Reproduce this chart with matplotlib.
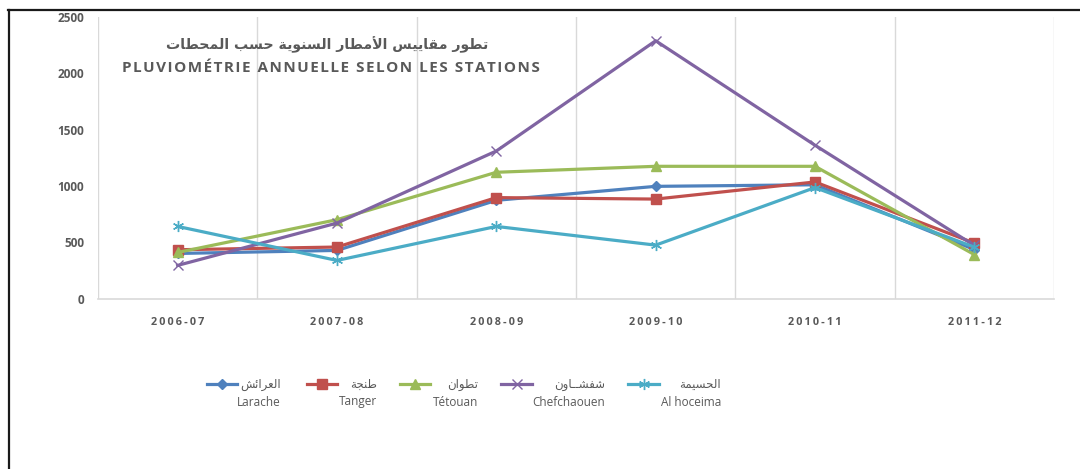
import matplotlib
matplotlib.use("Agg")
import matplotlib.pyplot as plt
from matplotlib.lines import Line2D

# ---- data (mm) ----
seasons = ["2006-07", "2007-08", "2008-09", "2009-10", "2010-11", "2011-12"]
larache = [400, 427, 872, 996, 1010, 435]
tanger = [433, 457, 896, 883, 1035, 492]
tetouan = [409, 700, 1121, 1174, 1174, 390]
chefchaouen = [294, 670, 1310, 2289, 1361, 471]
alhoceima = [640, 338, 640, 474, 985, 456]

names_ar = ["العرائش", "طنجة", "تطوان", "شفشــاون", "الحسيمة"]
names_fr = ["Larache", "Tanger", "Tétouan", "Chefchaouen", "Al hoceima"]
title_ar = "تطور مقاييس الأمطار السنوية حسب المحطات"
title_fr = "PLUVIOMÉTRIE ANNUELLE SELON LES STATIONS"

SERIES = [
    (larache, "#4F81BD", "D", 5.0),
    (tanger, "#C0504D", "s", 7.0),
    (tetouan, "#9BBB59", "^", 7.5),
    (chefchaouen, "#8064A2", "x", 6.5),
    (alhoceima, "#4BACC6", (6, 2, 0), 8.0),
]
TXT = "#595959"
GRID = "#D9D9D9"
W, H = 1080, 469

# presentation forms: isolated, final, initial, medial
FORMS = {
    "ا": (0xFE8D, 0xFE8E, None, None),
    "أ": (0xFE83, 0xFE84, None, None),
    "ب": (0xFE8F, 0xFE90, 0xFE91, 0xFE92),
    "ة": (0xFE93, 0xFE94, None, None),
    "ت": (0xFE95, 0xFE96, 0xFE97, 0xFE98),
    "ج": (0xFE9D, 0xFE9E, 0xFE9F, 0xFEA0),
    "ح": (0xFEA1, 0xFEA2, 0xFEA3, 0xFEA4),
    "ر": (0xFEAD, 0xFEAE, None, None),
    "س": (0xFEB1, 0xFEB2, 0xFEB3, 0xFEB4),
    "ش": (0xFEB5, 0xFEB6, 0xFEB7, 0xFEB8),
    "ط": (0xFEC1, 0xFEC2, 0xFEC3, 0xFEC4),
    "ع": (0xFEC9, 0xFECA, 0xFECB, 0xFECC),
    "ف": (0xFED1, 0xFED2, 0xFED3, 0xFED4),
    "ق": (0xFED5, 0xFED6, 0xFED7, 0xFED8),
    "ل": (0xFEDD, 0xFEDE, 0xFEDF, 0xFEE0),
    "م": (0xFEE1, 0xFEE2, 0xFEE3, 0xFEE4),
    "ن": (0xFEE5, 0xFEE6, 0xFEE7, 0xFEE8),
    "و": (0xFEED, 0xFEEE, None, None),
    "ي": (0xFEF1, 0xFEF2, 0xFEF3, 0xFEF4),
    "ئ": (0xFE89, 0xFE8A, 0xFE8B, 0xFE8C),
    "ـ": (0x640, 0x640, 0x640, 0x640),
    "لا": (0xFEFB, 0xFEFC, None, None),
    "لأ": (0xFEF7, 0xFEF8, None, None),
}


def shape_ar(s):
    """crude arabic shaping + rtl reversal (mpl has no text shaping)"""
    out = []
    for word in s.split(" "):
        toks, i = [], 0
        while i < len(word):
            if word[i:i + 2] in FORMS and len(word[i:i + 2]) == 2:
                toks.append(word[i:i + 2]); i += 2
            else:
                toks.append(word[i]); i += 1
        res = []
        for k, t in enumerate(toks):
            f = FORMS[t]
            prev_joins = k > 0 and FORMS[toks[k - 1]][2] is not None
            next_joins = k + 1 < len(toks) and f[2] is not None
            if prev_joins and next_joins:
                c = f[3]
            elif prev_joins:
                c = f[1]
            elif next_joins:
                c = f[2]
            else:
                c = f[0]
            res.append(chr(c))
        out.append("".join(res))
    return " ".join(out)[::-1]


def spaced(s, sep="\u2009"):
    return sep.join(s)


def fx(x):
    return x / W


def fy(y):
    return 1 - y / H


plt.rcParams["font.family"] = ["Open Sans", "DejaVu Sans"]

fig = plt.figure(figsize=(W / 100, H / 100), dpi=100)
ax = fig.add_axes([fx(98), fy(298.5), fx(1054) - fx(98), fy(17) - fy(298.5)])

x = list(range(len(seasons)))
for vals, col, mk, ms in SERIES:
    ax.plot(x, vals, color=col, lw=2.3, marker=mk, ms=ms, mfc=col, mec=col,
            mew=1.0, solid_joinstyle="round")

ax.set_xlim(-0.5, len(seasons) - 0.5)
ax.set_ylim(0, 2500)
ax.set_yticks(range(0, 2501, 500))
ax.set_yticklabels([str(v) for v in range(0, 2501, 500)], fontsize=8.5,
                   fontweight="bold", color=TXT)
ax.set_xticks(x)
ax.set_xticklabels([spaced(s) for s in seasons], fontsize=7.8,
                   fontweight="bold", color=TXT)
ax.tick_params(axis="y", length=0, pad=10)
ax.tick_params(axis="x", length=0, pad=13)
for b in [v - 0.5 for v in range(len(seasons) + 1)]:
    ax.axvline(b, color=GRID, lw=1.0, zorder=0)
for sp in ("top", "right", "left"):
    ax.spines[sp].set_visible(False)
ax.spines["bottom"].set_color(GRID)
ax.spines["bottom"].set_linewidth(1.2)

# titles
fig.text(fx(327), fy(45), shape_ar(title_ar), ha="center", va="center",
         fontsize=10.2, fontweight="bold", color=TXT, family="DejaVu Sans")
fig.text(fx(331), fy(68), spaced(title_fr, "\u200a"), ha="center",
         va="center", fontsize=11, fontweight="bold", color=TXT)

# legend (drawn by hand, excel-style two-line labels)
handles = [(207, 237, 281), (307, 337, 377), (400, 430, 478),
           (501, 532, 605), (628, 659, 721)]
for (x0, x1, xr), (vals, col, mk, ms), ar, fr in zip(handles, SERIES,
                                                     names_ar, names_fr):
    fig.add_artist(Line2D([fx(x0), fx(x1)], [fy(384), fy(384)], color=col,
                          lw=2.3, transform=fig.transFigure))
    fig.add_artist(Line2D([fx((x0 + x1) / 2)], [fy(384)], color=col, marker=mk,
                          ms=ms, mfc=col, mec=col, mew=1.0,
                          transform=fig.transFigure))
    fig.text(fx(xr), fy(384), shape_ar(ar), ha="right", va="center",
             fontsize=8.5, color=TXT, family="DejaVu Sans")
    fig.text(fx(xr), fy(402), fr, ha="right", va="center", fontsize=8.5,
             color=TXT)

# outer frame (top + left edges only visible)
fig.add_artist(Line2D([fx(8), 1], [fy(10), fy(10)], color="#1a1a1a", lw=1.6,
                      transform=fig.transFigure))
fig.add_artist(Line2D([fx(9), fx(9)], [fy(10), 0], color="#1a1a1a", lw=1.6,
                      transform=fig.transFigure))

fig.savefig("out.png", dpi=100)
